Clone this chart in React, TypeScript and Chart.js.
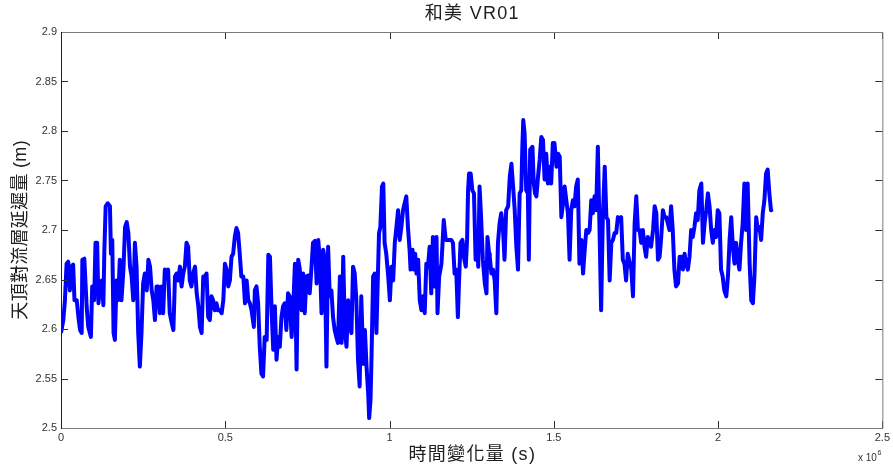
import React, { useEffect, useRef } from "react";
import Chart from "chart.js/auto";

// Time (unit: 10^6 s)
const timesA = [
  0, 0.007, 0.012, 0.017, 0.022, 0.027, 0.032, 0.037, 0.041, 0.048,
  0.053, 0.058, 0.063, 0.065, 0.071, 0.078, 0.083, 0.091, 0.095, 0.101,
  0.105, 0.110, 0.114, 0.119, 0.124, 0.129, 0.132, 0.136, 0.142, 0.149,
  0.152, 0.156, 0.160, 0.164, 0.169, 0.174, 0.179, 0.184, 0.190, 0.195,
  0.200, 0.205, 0.210, 0.215, 0.220, 0.225, 0.230, 0.235, 0.240, 0.245,
  0.250, 0.255, 0.261, 0.266, 0.271, 0.276, 0.281, 0.286, 0.291, 0.296,
  0.301, 0.306, 0.311, 0.316, 0.321, 0.326, 0.331, 0.337, 0.342, 0.347,
  0.352, 0.357, 0.362, 0.367, 0.372, 0.377, 0.382, 0.387, 0.392, 0.397,
  0.402, 0.408, 0.413, 0.418, 0.423, 0.428, 0.433, 0.438, 0.443, 0.448,
  0.453, 0.458, 0.463, 0.468, 0.473, 0.478, 0.484, 0.489, 0.494, 0.499,
  0.504, 0.509, 0.514, 0.519, 0.524, 0.529, 0.534, 0.539, 0.544, 0.549,
  0.555, 0.560, 0.565, 0.570, 0.575, 0.580, 0.587,
];
const delaysA = [
  2.596, 2.609, 2.629, 2.666, 2.668, 2.639, 2.663, 2.665, 2.629, 2.629,
  2.612, 2.599, 2.596, 2.670, 2.671, 2.623, 2.602, 2.592, 2.643, 2.629,
  2.687, 2.687, 2.626, 2.643, 2.649, 2.624, 2.680, 2.724, 2.727, 2.724,
  2.676, 2.690, 2.596, 2.589, 2.649, 2.629, 2.670, 2.629, 2.660, 2.703,
  2.708, 2.697, 2.663, 2.653, 2.629, 2.687, 2.663, 2.596, 2.562, 2.596,
  2.646, 2.656, 2.639, 2.670, 2.663, 2.639, 2.629, 2.609, 2.643, 2.643,
  2.616, 2.643, 2.616, 2.660, 2.656, 2.660, 2.616, 2.606, 2.599, 2.653,
  2.656, 2.649, 2.663, 2.643, 2.656, 2.663, 2.687, 2.683, 2.649, 2.643,
  2.656, 2.663, 2.636, 2.623, 2.602, 2.596, 2.653, 2.653, 2.656, 2.612,
  2.609, 2.633, 2.629, 2.619, 2.626, 2.619, 2.619, 2.616, 2.629, 2.666,
  2.660, 2.643, 2.649, 2.673, 2.676, 2.693, 2.702, 2.697, 2.676, 2.653,
  2.653, 2.626, 2.649, 2.629, 2.626, 2.619, 2.602,
];

const timesB = [
  0.590, 0.595, 0.600, 0.605, 0.610, 0.615, 0.620, 0.626, 0.631, 0.636,
  0.641, 0.646, 0.651, 0.656, 0.661, 0.666, 0.671, 0.676, 0.681, 0.686,
  0.691, 0.696, 0.702, 0.707, 0.712, 0.717, 0.722, 0.727, 0.732, 0.737,
  0.742, 0.747, 0.752, 0.757, 0.762, 0.767, 0.773, 0.778, 0.783, 0.788,
  0.793, 0.798, 0.803, 0.808, 0.813, 0.818, 0.823, 0.828, 0.833, 0.838,
  0.843,
];
const delaysB = [
  2.639, 2.643, 2.626, 2.582, 2.555, 2.552, 2.592, 2.589, 2.675, 2.673,
  2.619, 2.579, 2.623, 2.569, 2.592, 2.582, 2.612, 2.623, 2.626, 2.599,
  2.636, 2.633, 2.592, 2.623, 2.666, 2.559, 2.670, 2.660, 2.619, 2.656,
  2.616, 2.653, 2.654, 2.636, 2.660, 2.687, 2.689, 2.646, 2.690, 2.670,
  2.616, 2.680, 2.670, 2.562, 2.683, 2.633, 2.639, 2.612, 2.599, 2.592,
  2.586,
];

const timesC = [
  0.849, 0.854, 0.859, 0.864, 0.869, 0.874, 0.879, 0.884, 0.889, 0.894,
  0.899, 0.904, 0.909, 0.914, 0.920, 0.925, 0.930, 0.935, 0.938, 0.942,
  0.945, 0.950, 0.955, 0.960, 0.965, 0.968, 0.972, 0.977, 0.981, 0.985,
  0.990, 0.996, 1.001, 1.006, 1.011, 1.016, 1.021, 1.026, 1.031, 1.036,
  1.041, 1.046, 1.051, 1.056, 1.061, 1.064, 1.070, 1.074, 1.078, 1.082,
  1.087, 1.092, 1.097, 1.102, 1.107, 1.112, 1.117, 1.122, 1.127, 1.132,
  1.137, 1.143, 1.146, 1.151, 1.158, 1.165, 1.171, 1.178, 1.188, 1.193,
  1.198, 1.203, 1.208, 1.211, 1.216, 1.222, 1.226, 1.232, 1.236, 1.239,
  1.242, 1.247, 1.252, 1.257, 1.262, 1.266, 1.270, 1.274, 1.279, 1.284,
  1.290, 1.295, 1.298, 1.303,
];
const delaysC = [
  2.653, 2.586, 2.673, 2.599, 2.582, 2.629, 2.602, 2.596, 2.663, 2.656,
  2.629, 2.569, 2.542, 2.633, 2.565, 2.599, 2.562, 2.535, 2.510, 2.528,
  2.569, 2.653, 2.656, 2.596, 2.660, 2.697, 2.703, 2.744, 2.747, 2.687,
  2.676, 2.653, 2.629, 2.663, 2.649, 2.687, 2.703, 2.720, 2.690, 2.703,
  2.720, 2.727, 2.734, 2.703, 2.680, 2.660, 2.680, 2.660, 2.676, 2.656,
  2.670, 2.629, 2.619, 2.633, 2.616, 2.666, 2.663, 2.683, 2.636, 2.693,
  2.643, 2.693, 2.616, 2.653, 2.666, 2.710, 2.690, 2.690, 2.690, 2.687,
  2.656, 2.660, 2.612, 2.643, 2.687, 2.690, 2.673, 2.663, 2.690, 2.740,
  2.757, 2.757, 2.740, 2.737, 2.670, 2.697, 2.663, 2.744, 2.710, 2.670,
  2.646, 2.636, 2.693, 2.676,
];

const timesD = [
  1.305, 1.310, 1.315, 1.320, 1.325, 1.330, 1.335, 1.340, 1.345, 1.350,
  1.355, 1.361, 1.366, 1.371, 1.376, 1.381, 1.386, 1.391, 1.396, 1.401,
  1.404, 1.407, 1.411, 1.416, 1.421, 1.424, 1.428, 1.435, 1.439, 1.443,
  1.447, 1.452, 1.457, 1.462, 1.467, 1.472, 1.477, 1.482, 1.487, 1.492,
  1.497, 1.502, 1.508, 1.513, 1.518, 1.523, 1.528, 1.533, 1.538, 1.543,
  1.548, 1.553, 1.558, 1.563, 1.568, 1.573, 1.578, 1.584, 1.589, 1.594,
  1.599, 1.604, 1.609, 1.614, 1.619, 1.624, 1.629, 1.634, 1.639, 1.644,
  1.649, 1.655, 1.660, 1.665, 1.670, 1.675, 1.680, 1.685, 1.690, 1.695,
  1.700, 1.705, 1.710, 1.715, 1.720, 1.725,
];
const delaysD = [
  2.673, 2.656, 2.660, 2.649, 2.616, 2.687, 2.707, 2.717, 2.703, 2.670,
  2.720, 2.724, 2.754, 2.767, 2.744, 2.720, 2.683, 2.660, 2.737, 2.740,
  2.781, 2.811, 2.798, 2.740, 2.737, 2.670, 2.781, 2.784, 2.747, 2.737,
  2.734, 2.754, 2.771, 2.794, 2.791, 2.751, 2.777, 2.747, 2.764, 2.747,
  2.788, 2.788, 2.764, 2.777, 2.774, 2.713, 2.727, 2.744, 2.730, 2.717,
  2.670, 2.720, 2.730, 2.724, 2.744, 2.751, 2.666, 2.690, 2.656, 2.680,
  2.700, 2.697, 2.700, 2.730, 2.717, 2.734, 2.720, 2.784, 2.703, 2.619,
  2.710, 2.764, 2.713, 2.710, 2.649, 2.687, 2.690, 2.697, 2.697, 2.713,
  2.710, 2.713, 2.670, 2.666, 2.649, 2.676,
];

const timesE = [
  1.736, 1.741, 1.746, 1.751, 1.756, 1.761, 1.766, 1.771, 1.776, 1.781,
  1.786, 1.791, 1.796, 1.802, 1.807, 1.812, 1.817, 1.822, 1.827, 1.832,
  1.837, 1.842, 1.847, 1.852, 1.857, 1.862, 1.867, 1.872, 1.878, 1.883,
  1.888, 1.893, 1.898, 1.903, 1.908, 1.913, 1.918, 1.923, 1.928, 1.933,
  1.938, 1.943, 1.949, 1.954, 1.959, 1.964, 1.969, 1.974, 1.979, 1.984,
  1.989, 1.994, 1.999, 2.004, 2.009, 2.014, 2.019, 2.025, 2.030, 2.035,
  2.040, 2.045, 2.050, 2.055, 2.060, 2.065, 2.070, 2.075, 2.080, 2.085,
  2.090, 2.096, 2.101, 2.106, 2.111, 2.116, 2.121, 2.126, 2.131, 2.136,
  2.141, 2.146, 2.151, 2.156, 2.161, 2.166,
];
const delaysE = [
  2.660, 2.633, 2.707, 2.734, 2.700, 2.700, 2.687, 2.700, 2.683, 2.673,
  2.693, 2.690, 2.683, 2.700, 2.724, 2.717, 2.670, 2.673, 2.693, 2.720,
  2.713, 2.713, 2.707, 2.700, 2.724, 2.700, 2.660, 2.643, 2.646, 2.673,
  2.673, 2.660, 2.676, 2.666, 2.660, 2.673, 2.700, 2.693, 2.703, 2.717,
  2.710, 2.740, 2.747, 2.687, 2.707, 2.720, 2.737, 2.724, 2.700, 2.687,
  2.700, 2.693, 2.720, 2.717, 2.660, 2.653, 2.639, 2.633, 2.653, 2.690,
  2.713, 2.683, 2.666, 2.687, 2.670, 2.660, 2.687, 2.707, 2.747, 2.700,
  2.747, 2.666, 2.629, 2.626, 2.656, 2.713, 2.700, 2.703, 2.690, 2.717,
  2.730, 2.757, 2.761, 2.737, 2.720, 2.721,
];

const xTickValues = [0, 0.5, 1, 1.5, 2, 2.5];
const xTickLabels = ["0", "0.5", "1", "1.5", "2", "2.5"];
const yTickValues = [2.5, 2.55, 2.6, 2.65, 2.7, 2.75, 2.8, 2.85, 2.9];
const yTickLabels = ["2.5", "2.55", "2.6", "2.65", "2.7", "2.75", "2.8", "2.85", "2.9"];

const titleText = "和美 VR01";
const xAxisTitle = "時間變化量 (s)";
const yAxisTitle = "天頂對流層延遲量 (m)";
const xMultiplierBase = "x 10";
const xMultiplierExp = "6";

const FONT = '"Liberation Sans", Arial, "Noto Sans CJK TC", sans-serif';

function buildPoints() {
  const ts = [...timesA, ...timesB, ...timesC, ...timesD, ...timesE];
  const vs = [...delaysA, ...delaysB, ...delaysC, ...delaysD, ...delaysE];
  const n = Math.min(ts.length, vs.length);
  const pts: { x: number; y: number }[] = [];
  for (let i = 0; i < n; i++) pts.push({ x: ts[i], y: vs[i] });
  return pts;
}

function spacedText(ctx: any, text: string, x: number, y: number, spacing: number) {
  // draw text centered at x with extra letter spacing
  const chars = Array.from(text);
  const widths = chars.map((c) => ctx.measureText(c).width);
  const total = widths.reduce((a, b) => a + b, 0) + spacing * (chars.length - 1);
  let cx = x - total / 2;
  const prevAlign = ctx.textAlign;
  ctx.textAlign = "left";
  chars.forEach((c, i) => {
    ctx.fillText(c, cx, y);
    cx += widths[i] + spacing;
  });
  ctx.textAlign = prevAlign;
}

const framePlugin = {
  id: "matlabFrame",
  afterDraw(chart: any) {
    const { ctx, chartArea, scales } = chart;
    const { left, right, top, bottom } = chartArea;
    const xs = scales.x;
    const ys = scales.y;
    ctx.save();
    ctx.lineWidth = 1;
    // ticks (inward, on all four sides)
    ctx.strokeStyle = "#303030";
    ctx.beginPath();
    yTickValues.forEach((v) => {
      const py = Math.round(ys.getPixelForValue(v)) + 0.5;
      ctx.moveTo(left, py);
      ctx.lineTo(left + 7, py);
      ctx.moveTo(right, py);
      ctx.lineTo(right - 7, py);
    });
    xTickValues.forEach((v) => {
      const px = Math.round(xs.getPixelForValue(v)) + 0.5;
      ctx.moveTo(px, bottom);
      ctx.lineTo(px, bottom - 7);
      ctx.moveTo(px, top);
      ctx.lineTo(px, top + 7);
    });
    ctx.stroke();
    // frame
    ctx.strokeStyle = "#7a7a7a";
    ctx.beginPath();
    ctx.moveTo(left, top + 0.5);
    ctx.lineTo(right + 0.5, top + 0.5);
    ctx.lineTo(right + 0.5, bottom + 0.5);
    ctx.lineTo(left, bottom + 0.5);
    ctx.stroke();
    ctx.strokeStyle = "#202020";
    ctx.beginPath();
    ctx.moveTo(left + 0.5, top);
    ctx.lineTo(left + 0.5, bottom + 1);
    ctx.stroke();

    // texts
    ctx.fillStyle = "#202020";
    ctx.textAlign = "center";
    ctx.textBaseline = "middle";
    ctx.font = `18px ${FONT}`;
    spacedText(ctx, titleText, (left + right) / 2, 14, 1.3);

    ctx.font = `18px ${FONT}`;
    spacedText(ctx, xAxisTitle, (left + right) / 2, 455, 1.3);

    ctx.save();
    ctx.translate(21, (top + bottom) / 2);
    ctx.rotate(-Math.PI / 2);
    spacedText(ctx, yAxisTitle, 0, 0, 0.3);
    ctx.restore();

    ctx.textAlign = "left";
    ctx.textBaseline = "alphabetic";
    ctx.fillStyle = "#333333";
    ctx.font = `10px ${FONT}`;
    ctx.fillText(xMultiplierBase, 858, 461);
    const w = ctx.measureText(xMultiplierBase).width;
    ctx.font = `7px ${FONT}`;
    ctx.fillText(xMultiplierExp, 858 + w + 0.5, 455);
    ctx.restore();
  },
};

export default function App() {
  const canvasRef = useRef<HTMLCanvasElement | null>(null);

  useEffect(() => {
    if (!canvasRef.current) return;
    const chart = new Chart(canvasRef.current, {
      type: "scatter",
      data: {
        datasets: [
          {
            data: buildPoints(),
            showLine: true,
            borderColor: "#0000ff",
            backgroundColor: "#0000ff",
            borderWidth: 4,
            pointRadius: 0,
            pointHoverRadius: 0,
            tension: 0,
            borderJoinStyle: "round",
          } as any,
        ],
      },
      options: {
        responsive: false,
        animation: false,
        devicePixelRatio: 1,
        events: [],
        layout: { padding: { left: 0, right: 10, top: 32, bottom: 0 } },
        plugins: {
          legend: { display: false },
          title: { display: false },
          tooltip: { enabled: false },
        },
        scales: {
          x: {
            type: "linear",
            min: 0,
            max: 2.5,
            afterBuildTicks: (scale: any) => {
              scale.ticks = xTickValues.map((v) => ({ value: v }));
            },
            afterFit: (scale: any) => {
              scale.height = 41;
            },
            grid: { display: false, drawTicks: false },
            border: { display: false },
            ticks: {
              padding: 3,
              maxRotation: 0,
              autoSkip: false,
              color: "#333333",
              font: { family: FONT, size: 11 },
              callback: (v: any) => {
                const i = xTickValues.findIndex((t) => Math.abs(t - Number(v)) < 1e-9);
                return i >= 0 ? xTickLabels[i] : "";
              },
            },
          },
          y: {
            type: "linear",
            min: 2.5,
            max: 2.9,
            afterBuildTicks: (scale: any) => {
              scale.ticks = yTickValues.map((v) => ({ value: v }));
            },
            afterFit: (scale: any) => {
              scale.width = 61;
            },
            grid: { display: false, drawTicks: false },
            border: { display: false },
            ticks: {
              padding: 4,
              autoSkip: false,
              color: "#333333",
              font: { family: FONT, size: 11 },
              callback: (v: any) => {
                const i = yTickValues.findIndex((t) => Math.abs(t - Number(v)) < 1e-9);
                return i >= 0 ? yTickLabels[i] : "";
              },
            },
          },
        },
      },
      plugins: [framePlugin],
    });
    return () => chart.destroy();
  }, []);

  return (
    <div style={{ position: "absolute", left: 0, top: 0, width: 893, height: 469, background: "#ffffff" }}>
      <canvas ref={canvasRef} width={893} height={469} style={{ display: "block" }} />
    </div>
  );
}
